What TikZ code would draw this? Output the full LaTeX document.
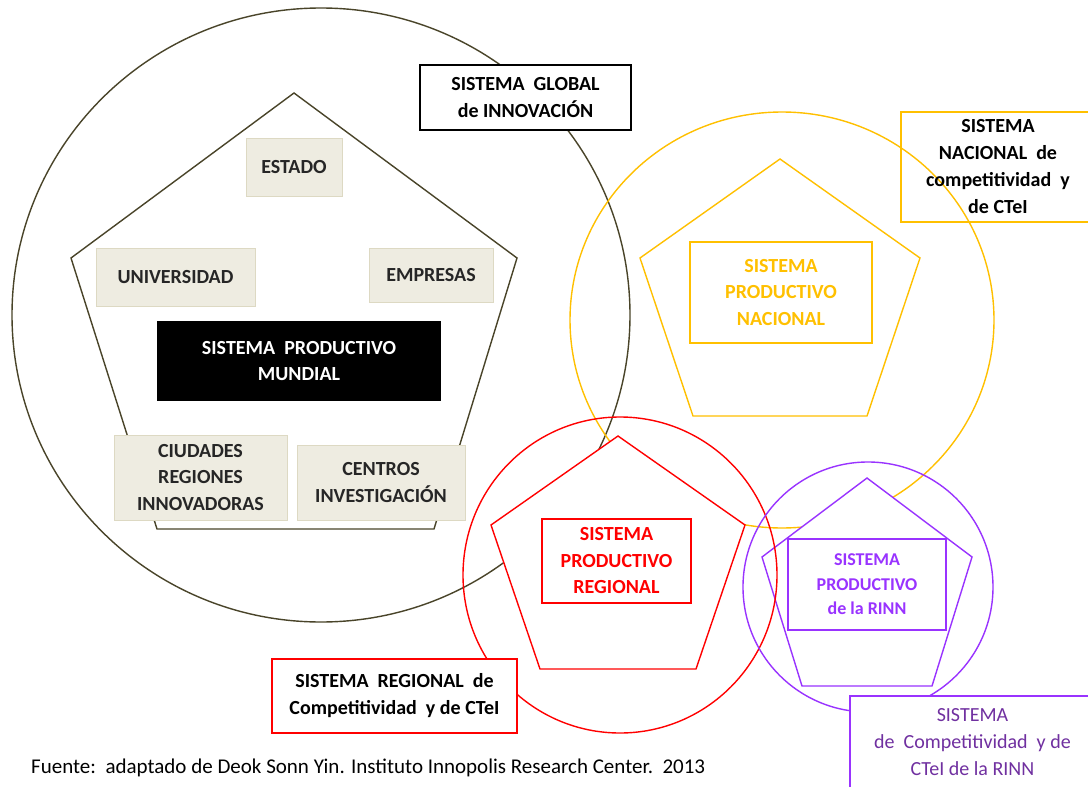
\documentclass[tikz,border=0pt]{standalone}
\usepackage{fontspec}
\setmainfont{Carlito}
\usetikzlibrary{positioning}

\definecolor{globalc}{HTML}{494429}
\definecolor{tanfill}{HTML}{EEECE1}
\definecolor{tanline}{HTML}{DDD9C3}
\definecolor{nationc}{HTML}{FFC000}
\definecolor{regionc}{HTML}{FF0000}
\definecolor{rinnc}{HTML}{9933FF}
\definecolor{rinntext}{HTML}{7030A0}
\definecolor{actortext}{HTML}{262626}

\tikzset{
	ring/.style={line width=1.4pt},
	pent/.style={line width=1.4pt,fill=white},
	actor/.style={fill=tanfill,draw=tanline,line width=1pt,inner sep=0pt,align=center,text=actortext,font=\fontsize{20}{26.5}\selectfont\bfseries},
	core/.style={draw,line width=1.8pt,inner sep=0pt,align=center,font=\fontsize{20}{26.5}\selectfont\bfseries},
	tag/.style={draw,fill=white,line width=1.8pt,inner sep=0pt,align=center,font=\fontsize{20}{27}\selectfont\bfseries}
}

\begin{document}
\begin{tikzpicture}[x=1pt,y=-1pt]
	\useasboundingbox (0,0) rectangle (1088,787);
	\fill[white] (0,0) rectangle (1088,787);

	\draw[ring,globalc] (321,315) ellipse [x radius=309pt,y radius=307pt];
	\filldraw[pent,draw=globalc] (294,93) -- (517,258) -- (434,529) -- (157,529) -- (71,258) -- cycle;
	\node[actor,minimum width=96pt,minimum height=58pt] at (294,167) (estado) {ESTADO};
	\node[actor,minimum width=159pt,minimum height=58pt] at (175.5,277) (univ) {UNIVERSIDAD};
	\node[actor,minimum width=124pt,minimum height=54pt] at (431,275) (empresas) {EMPRESAS};
	\node[core,fill=black,text=white,minimum width=282pt,minimum height=78pt] at (299,361) (mundial) {SISTEMA~~PRODUCTIVO\\MUNDIAL};
	\node[actor,minimum width=173pt,minimum height=85pt] at (200.5,477.5) (ciudades) {CIUDADES\\REGIONES\\INNOVADORAS};
	\node[actor,minimum width=168pt,minimum height=75pt] at (381,482.5) (centros) {CENTROS\\INVESTIGACIÓN};
	\node[tag,minimum width=211pt,minimum height=65pt] at (525.5,97.5) (global) {SISTEMA~~GLOBAL\\de INNOVACIÓN};

	\draw[ring,nationc] (782,320) ellipse [x radius=212pt,y radius=208pt];
	\filldraw[pent,draw=nationc] (780,159) -- (920,258) -- (867,416) -- (693,416) -- (640,258) -- cycle;
	\node[core,draw=nationc,text=nationc,minimum width=182pt,minimum height=101pt] at (781,292.5) (prodnac) {SISTEMA\\PRODUCTIVO\\NACIONAL};
	\node[tag,fill=none,draw=nationc,minimum width=194pt,minimum height=110pt] at (998,167) (nacional) {SISTEMA\\NACIONAL~~de\\competitividad~~y\\de CTeI};

	\filldraw[pent,draw=rinnc] (867,478) -- (972,557) -- (932,686) -- (802,686) -- (762,557) -- cycle;
	\draw[ring,regionc] (620,575) ellipse [x radius=157pt,y radius=158pt];
	\filldraw[pent,draw=regionc] (618,436) -- (745,525) -- (696,669) -- (540,669) -- (491,525) -- cycle;
	\node[core,draw=regionc,text=regionc,minimum width=149pt,minimum height=84pt] at (616.5,561) (prodreg) {SISTEMA\\PRODUCTIVO\\REGIONAL};
	\node[tag,draw=regionc,minimum width=245pt,minimum height=74pt] at (394.5,696) (regional) {SISTEMA~~REGIONAL~~de\\Competitividad~~y de CTeI};

	\draw[ring,rinnc] (868,587) circle [radius=125pt];
	\node[core,draw=rinnc,text=rinnc,minimum width=158pt,minimum height=91pt,font=\fontsize{18}{24.5}\selectfont\bfseries] at (867,584.5) (prodrinn) {SISTEMA\\PRODUCTIVO\\de la RINN};
	\node[tag,draw=rinnc,text=rinntext,minimum width=245pt,minimum height=92pt,font=\fontsize{20}{27}\selectfont] at (972.5,742) (rinn) {SISTEMA\\de~~Competitividad~~y de\\CTeI de la RINN};

	\node[anchor=base west,inner sep=0pt,font=\fontsize{21}{25}\selectfont] at (31,773) (fuente) {Fuente:~~adaptado de Deok Sonn Yin. Instituto Innopolis Research Center.~~2013};
\end{tikzpicture}
\end{document}
